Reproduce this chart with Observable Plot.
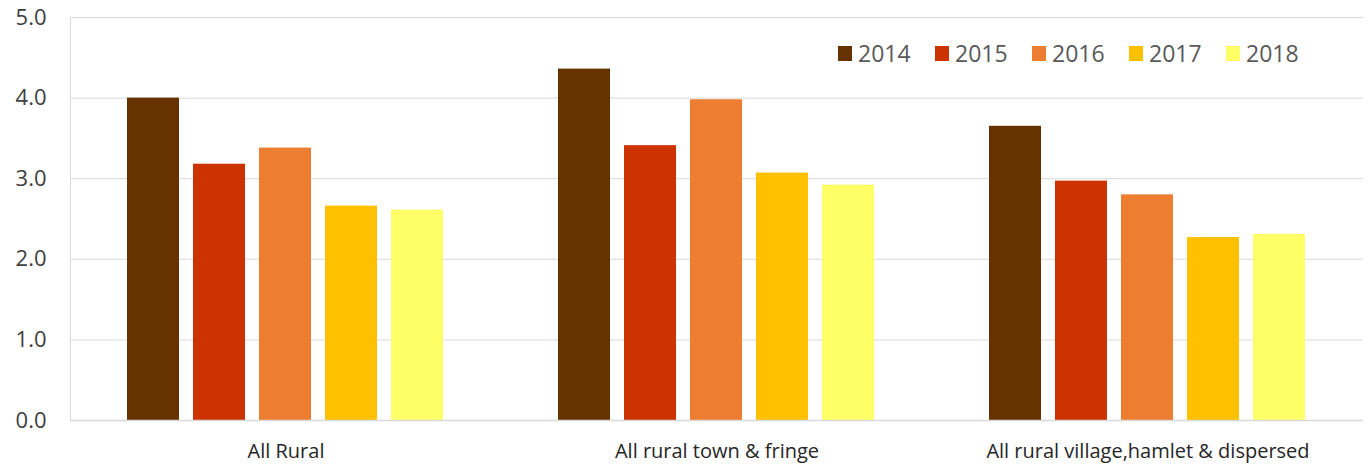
<!DOCTYPE html>
<html>
<head>
<meta charset="utf-8">
<script src="https://cdn.jsdelivr.net/npm/d3@7"></script>
<script src="https://cdn.jsdelivr.net/npm/@observablehq/plot@0.6"></script>
<style>
  html, body { margin: 0; padding: 0; background: #fff; }
  #wrap { position: relative; width: 1370px; height: 466px; }
  #legend { position: absolute; top: 37px; left: 838px; display: flex; font-family: "Open Sans", sans-serif; font-size: 23px; color: #595959; }
  .item { display: flex; align-items: center; width: 97px; }
  .sw { width: 14px; height: 15px; margin-right: 6px; }
  svg text { font-family: "Open Sans", sans-serif; }
</style>
</head>
<body>
<div id="wrap"><div id="legend"></div></div>
<script>
const categories = ["All Rural", "All rural town & fringe", "All rural village,hamlet & dispersed"];
const years = ["2014", "2015", "2016", "2017", "2018"];
const colors = ["#663300", "#CC3300", "#ED7D31", "#FFC000", "#FFFF66"];
const v2014 = [4.00, 4.36, 3.65];
const v2015 = [3.18, 3.41, 2.97];
const v2016 = [3.38, 3.98, 2.80];
const v2017 = [2.66, 3.07, 2.27];
const v2018 = [2.61, 2.92, 2.31];
const yTicks = [0, 1, 2, 3, 4, 5];

const series = [v2014, v2015, v2016, v2017, v2018];
const data = [];
categories.forEach((c, i) => years.forEach((y, j) => data.push({category: c, year: y, value: series[j][i]})));

const chart = Plot.plot({
  width: 1370,
  height: 466,
  marginLeft: 69,
  marginRight: 6,
  marginTop: 17,
  marginBottom: 46,
  style: {fontFamily: "Open Sans, sans-serif", background: "transparent"},
  fx: {domain: categories, padding: 0, label: null, axis: null},
  x: {domain: years, paddingInner: 0.212, paddingOuter: 0.871, axis: null},
  y: {domain: [0, 5], label: null, axis: null},
  color: {domain: years, range: colors},
  marks: [
    Plot.ruleY(yTicks, {stroke: "#d9d9d9", strokeWidth: 1}),
    Plot.frame({anchor: "left", stroke: "#d9d9d9", facetAnchor: "left"}),
    Plot.barY(data, {fx: "category", x: "year", y: "value", fill: "year"}),
    Plot.ruleY([0], {stroke: "#d9d9d9", strokeWidth: 1.5}),
    Plot.axisFx({anchor: "bottom", tickSize: 0, tickPadding: 23, fontSize: 20, label: null, fill: "#262626"}),
    Plot.axisY(yTicks, {anchor: "left", tickSize: 0, tickPadding: 24, tickFormat: d3.format(".1f"), fontSize: 22, label: null, fill: "#404040"})
  ]
});
document.getElementById("wrap").prepend(chart);

const leg = document.getElementById("legend");
years.forEach((y, i) => {
  const it = document.createElement("div");
  it.className = "item";
  const sw = document.createElement("span");
  sw.className = "sw";
  sw.style.background = colors[i];
  const t = document.createElement("span");
  t.textContent = y;
  it.append(sw, t);
  leg.append(it);
});
</script>
</body>
</html>
